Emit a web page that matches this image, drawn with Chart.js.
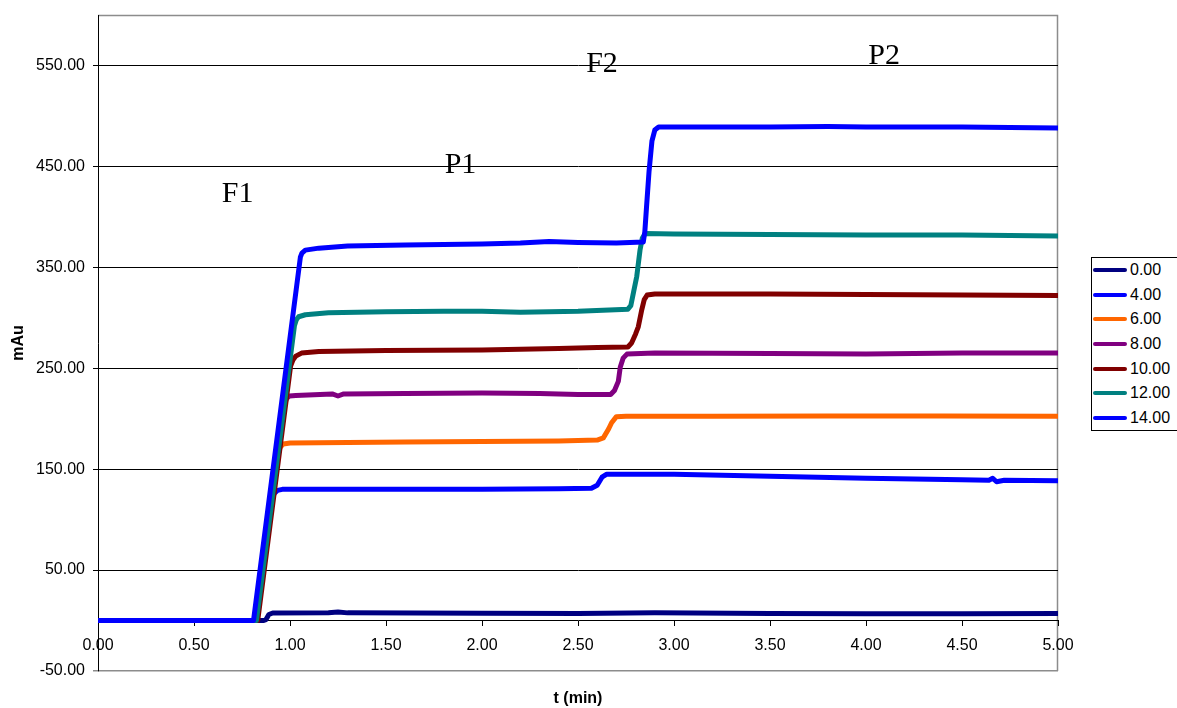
<!DOCTYPE html>
<html>
<head>
<meta charset="utf-8">
<script src="https://cdn.jsdelivr.net/npm/chart.js@4.4.1/dist/chart.umd.min.js"></script>
<style>
html,body{margin:0;padding:0;background:#fff;}
#wrap{position:relative;width:1177px;height:708px;overflow:hidden;background:#fff;}
#c{position:absolute;left:0;top:0;}
#legend{position:absolute;left:1091px;top:257px;width:110px;height:174px;border:1px solid #000;box-sizing:border-box;background:#fff;font:16px "Liberation Sans",Arial,sans-serif;color:#000;}
.row{position:absolute;left:1px;height:20px;display:flex;align-items:center;white-space:nowrap;}
.sw{width:34px;height:4px;border-radius:2px;margin-right:3px;}
</style>
</head>
<body>
<div id="wrap">
<canvas id="c" width="1177" height="708"></canvas>
<div id="legend"></div>
</div>
<script>
// ---- data (t in min, response in mAu) ----
const seriesNames = ['0.00', '4.00', '6.00', '8.00', '10.00', '12.00', '14.00'];
const seriesColors = ['#000080', '#0000FF', '#FF6600', '#800080', '#800000', '#008080', '#0000FF'];

const s00 = [[0,0],[0.86,0],[0.875,1],[0.89,6],[0.91,7.5],[1.2,7.8],[1.25,8.5],[1.3,7.6],[2.0,7.2],[2.5,7.0],[2.9,7.6],[3.5,7.0],[4.0,6.8],[4.5,6.8],[5.0,7.0]];
const s04 = [[0,0],[0.825,0],[0.906,120],[0.918,126],[0.935,129],[0.96,130],[1.2,130],[1.6,130],[2.0,130],[2.4,130.5],[2.57,131],[2.6,134],[2.625,142],[2.65,145],[3.0,145],[3.5,143],[4.0,141],[4.5,139.5],[4.64,139],[4.66,141],[4.68,137.5],[4.72,139],[5.0,138.5]];
const s06 = [[0,0],[0.825,0],[0.938,166],[0.95,172],[0.965,175],[1.0,176],[1.3,176.5],[1.6,177],[2.0,177.5],[2.4,178],[2.6,178.8],[2.632,181],[2.66,190],[2.675,196],[2.70,202],[2.75,202.5],[3.2,202.5],[3.8,202.6],[4.4,202.6],[5.0,202.5]];
const s08 = [[0,0],[0.825,0],[0.970,214],[0.982,220],[0.997,222.5],[1.03,223],[1.22,224.5],[1.25,222.5],[1.28,224.5],[1.6,225],[2.0,225.5],[2.3,225],[2.5,224],[2.67,224],[2.69,228],[2.71,237],[2.72,251],[2.735,260],[2.755,264],[2.9,265],[3.5,264.5],[4.0,264],[4.5,265],[5.0,265]];
const s10 = [[0,0],[0.832,0],[1.003,252],[1.015,258],[1.03,262],[1.06,265],[1.15,266.5],[1.5,267.5],[2.0,268],[2.4,269.5],[2.6,270.5],[2.76,271],[2.779,275],[2.80,284],[2.814,291],[2.831,307],[2.845,318],[2.86,322.5],[2.9,323.5],[3.5,323.5],[4.0,323],[4.5,322.5],[5.0,322]];
const s12 = [[0,0],[0.825,0],[1.023,292],[1.033,298],[1.045,301],[1.08,303],[1.2,305],[1.5,306],[1.8,306.5],[2.0,306.5],[2.2,305.5],[2.5,306.5],[2.76,308.5],[2.775,312],[2.79,326],[2.806,341],[2.823,367],[2.835,379],[2.85,383.5],[3.0,383],[3.5,382.5],[4.0,382],[4.5,382],[5.0,381]];
const s14 = [[0,0],[0.81,0],[1.054,360],[1.062,364],[1.08,367],[1.15,369],[1.3,371],[1.6,372],[2.0,373],[2.2,374],[2.35,375.5],[2.5,374.5],[2.7,374],[2.84,375],[2.848,385],[2.857,410],[2.87,445],[2.885,475],[2.9,486],[2.92,489],[3.2,489],[3.5,489],[3.8,489.5],[4.0,489],[4.5,489],[5.0,488]];
const seriesData = [s00, s04, s06, s08, s10, s12, s14];

const yTicks = [-50, 50, 150, 250, 350, 450, 550];
const noteLabels = ['F1', 'P1', 'F2', 'P2'];
const noteT = [0.727, 1.888, 2.625, 4.094];
const noteV = [415, 443, 543.5, 551.5];

// ---- chart ----
Chart.defaults.font.family = '"Liberation Sans", Arial, sans-serif';
Chart.defaults.color = '#000';

const framePlugin = {
  id: 'frame',
  beforeDraw(chart) {
    const {ctx, chartArea: a} = chart;
    ctx.save();
    ctx.strokeStyle = '#8c8c8c';
    ctx.lineWidth = 1.5;
    ctx.beginPath();
    ctx.moveTo(a.left, a.top + 0.5);
    ctx.lineTo(a.right - 0.5, a.top + 0.5);
    ctx.lineTo(a.right - 0.5, a.bottom);
    ctx.stroke();
    ctx.restore();
  }
};

const notesPlugin = {
  id: 'notes',
  afterDraw(chart) {
    const {ctx, scales} = chart;
    ctx.save();
    ctx.font = '30px "Liberation Serif", "Times New Roman", serif';
    ctx.fillStyle = '#000';
    ctx.textAlign = 'center';
    ctx.textBaseline = 'alphabetic';
    noteLabels.forEach((t, i) => {
      ctx.fillText(t, scales.x.getPixelForValue(noteT[i]), scales.y.getPixelForValue(noteV[i]));
    });
    ctx.restore();
  }
};

const datasets = seriesNames.map((name, i) => ({
  label: name,
  data: seriesData[i].map(([x, y]) => ({x, y})),
  borderColor: seriesColors[i],
  backgroundColor: seriesColors[i],
  borderWidth: 5,
  pointRadius: 0,
  fill: false,
  tension: 0,
  borderJoinStyle: 'round',
  borderCapStyle: 'round',
  order: seriesNames.length - i
}));

new Chart(document.getElementById('c'), {
  type: 'line',
  data: {datasets},
  options: {
    responsive: false,
    animation: false,
    layout: {padding: {top: 15, right: 119, bottom: 0, left: 0}},
    plugins: {legend: {display: false}, tooltip: {enabled: false}},
    scales: {
      x: {
        type: 'linear', min: 0, max: 5, position: {y: 0},
        ticks: {stepSize: 0.5, autoSkip: false, maxRotation: 0, padding: 10,
                font: {size: 16}, color: '#000', callback: v => Number(v).toFixed(2)},
        grid: {drawOnChartArea: false, drawTicks: true, tickLength: 5, color: '#000'},
        border: {display: true, color: '#000', width: 1},
        afterFit: s => { s.height = 0; s.paddingLeft = 0; s.paddingRight = 0; }
      },
      x2: {
        type: 'linear', min: 0, max: 5, position: 'bottom',
        ticks: {display: false},
        grid: {display: false},
        border: {display: false},
        title: {display: true, text: 't (min)', color: '#000', padding: 0,
                font: {size: 16, weight: 'bold'}},
        afterFit: s => { s.height = 37; s.paddingLeft = 0; s.paddingRight = 0; }
      },
      y: {
        type: 'linear', min: -50, max: 600, position: 'left',
        afterBuildTicks: s => { s.ticks = yTicks.map(v => ({value: v})); },
        ticks: {padding: 8, font: {size: 16}, color: '#000', callback: v => Number(v).toFixed(2)},
        grid: {color: c => (c.tick && c.tick.value === -50) ? '#8c8c8c' : '#000',
               lineWidth: c => (c.tick && c.tick.value === -50) ? 1.5 : 1,
               tickLength: 5, drawTicks: true},
        border: {display: true, color: '#000', width: 1},
        title: {display: true, text: 'mAu', color: '#000', padding: {top: 9, bottom: 0},
                font: {size: 16, weight: 'bold'}},
        afterFit: s => { s.width = 98; s.paddingTop = 0; s.paddingBottom = 0; }
      }
    }
  },
  plugins: [framePlugin, notesPlugin]
});

// ---- legend (HTML, built from the series arrays) ----
const legend = document.getElementById('legend');
seriesNames.forEach((name, i) => {
  const row = document.createElement('div');
  row.className = 'row';
  row.style.top = (2 + i * 24.67) + 'px';
  const sw = document.createElement('div');
  sw.className = 'sw';
  sw.style.background = seriesColors[i];
  const tx = document.createElement('span');
  tx.textContent = name;
  row.appendChild(sw);
  row.appendChild(tx);
  legend.appendChild(row);
});
</script>
</body>
</html>
